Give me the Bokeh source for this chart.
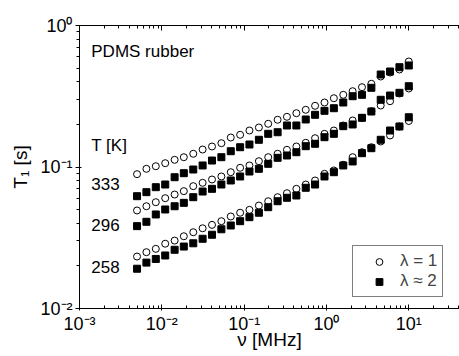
from bokeh.plotting import figure
from bokeh.models import (ColumnDataSource, LogAxis, FixedTicker, CustomJSTickFormatter,
                          Legend, LegendItem, Range1d)
from bokeh.core.properties import value
from bokeh.embed import file_html
from bokeh.resources import INLINE

# ---- data ----
freq_MHz = [0.005, 0.0065, 0.00845, 0.011, 0.0143, 0.0185, 0.0241, 0.0313, 0.0407, 0.0529,
            0.0688, 0.0894, 0.116, 0.151, 0.196, 0.255, 0.331, 0.431, 0.56, 0.727,
            0.946, 1.23, 1.6, 2.08, 2.7, 3.51, 4.56, 5.92, 7.7, 10.0]

T1_333_lam1 = [0.0890, 0.0971, 0.1013, 0.1064, 0.1124, 0.1173, 0.1240, 0.1329, 0.1396, 0.1473,
               0.1616, 0.1689, 0.1811, 0.1902, 0.2020, 0.2157, 0.2263, 0.2400, 0.2537, 0.2707,
               0.2856, 0.3063, 0.3237, 0.3433, 0.3664, 0.3873, 0.4360, 0.4653, 0.4887, 0.5567]
T1_333_lam2 = [0.0622, 0.0664, 0.0720, 0.0752, 0.0847, 0.0904, 0.0960, 0.1025, 0.1111, 0.1173,
               0.1293, 0.1380, 0.1442, 0.1557, 0.1716, 0.1761, 0.1965, 0.1965, 0.2167, 0.2338,
               0.2495, 0.2603, 0.2856, 0.3164, 0.3237, 0.3628, 0.4505, 0.4730, 0.5074, 0.5216]
T1_296_lam1 = [0.0493, 0.0528, 0.0564, 0.0602, 0.0639, 0.0675, 0.0732, 0.0773, 0.0816, 0.0857,
               0.0919, 0.0987, 0.1025, 0.1099, 0.1173, 0.1240, 0.1323, 0.1396, 0.1483, 0.1598,
               0.1716, 0.1811, 0.1965, 0.2132, 0.2226, 0.2479, 0.2720, 0.2917, 0.3307, 0.3587]
T1_296_lam2 = [0.0382, 0.0410, 0.0462, 0.0501, 0.0528, 0.0558, 0.0612, 0.0671, 0.0701, 0.0752,
               0.0803, 0.0857, 0.0929, 0.0971, 0.1053, 0.1161, 0.1206, 0.1272, 0.1403, 0.1459,
               0.1624, 0.1716, 0.1943, 0.1998, 0.2226, 0.2467, 0.2985, 0.3201, 0.3345, 0.3724]
T1_258_lam1 = [0.0233, 0.0250, 0.0264, 0.0287, 0.0302, 0.0324, 0.0346, 0.0369, 0.0390, 0.0414,
               0.0447, 0.0475, 0.0498, 0.0534, 0.0573, 0.0612, 0.0653, 0.0701, 0.0752, 0.0803,
               0.0895, 0.0945, 0.1036, 0.1173, 0.1272, 0.1380, 0.1515, 0.1670, 0.1933, 0.2114]
T1_258_lam2 = [0.0191, 0.0211, 0.0224, 0.0237, 0.0260, 0.0274, 0.0289, 0.0311, 0.0332, 0.0363,
               0.0386, 0.0414, 0.0442, 0.0475, 0.0520, 0.0573, 0.0606, 0.0629, 0.0713, 0.0752,
               0.0857, 0.0919, 0.1025, 0.1094, 0.1252, 0.1358, 0.1557, 0.1811, 0.1933, 0.2248]

x_major = [1e-3, 1e-2, 1e-1, 1e0, 1e1]
y_major = [1e-2, 1e-1, 1e0]

legend_labels = ["λ = 1", "λ ≈ 2"]
annot_text = ["PDMS rubber", "T [K]", "333", "296", "258"]
annot_x = [1.39e-3, 1.39e-3, 1.39e-3, 1.39e-3, 1.39e-3]
annot_y = [0.655, 0.1419, 0.0764, 0.0386, 0.0197]


def minors(majors, extra_decade=True):
    out = []
    decs = list(majors) + ([majors[-1] * 10] if extra_decade else [])
    for d in decs:
        for k in range(2, 10):
            out.append(d * k)
    return out


FONT = "Liberation Sans"

p = figure(width=459, height=356, x_axis_type="log", y_axis_type="log",
           x_range=Range1d(1e-3, 41.3), y_range=Range1d(1e-2, 1.0),
           output_backend="svg", toolbar_location=None,
           min_border_left=79, min_border_top=25, min_border_bottom=48, min_border_right=0)
p.outline_line_color = None
p.xgrid.visible = False
p.ygrid.visible = False
p.background_fill_color = "white"
p.border_fill_color = "white"

fmt_code = """
const sup = {"-":"\u207b","0":"\u2070","1":"\u00b9","2":"\u00b2","3":"\u00b3","4":"\u2074",
             "5":"\u2075","6":"\u2076","7":"\u2077","8":"\u2078","9":"\u2079"};
const e = Math.round(Math.log10(tick));
return "10" + String(e).split("").map(c => sup[c]).join("");
"""

xtick = FixedTicker(ticks=x_major, minor_ticks=minors(x_major))
ytick = FixedTicker(ticks=y_major, minor_ticks=minors(y_major, extra_decade=False))

for ax in (p.xaxis[0], p.yaxis[0]):
    ax.formatter = CustomJSTickFormatter(code=fmt_code)
    ax.major_label_text_font = FONT
    ax.major_label_text_font_size = "18px"
    ax.major_label_text_color = "black"
    ax.axis_label_text_font = FONT
    ax.axis_label_text_font_size = "19px"
    ax.axis_label_text_font_style = "normal"
    ax.axis_label_text_color = "black"
    ax.axis_line_color = "black"
    ax.major_tick_line_color = "black"
    ax.minor_tick_line_color = "black"

xa = p.xaxis[0]
xa.ticker = xtick
xa.axis_label = "ν [MHz]"
xa.major_tick_in = 4
xa.major_tick_out = 2
xa.minor_tick_in = 3
xa.minor_tick_out = 0
xa.major_label_standoff = 3
xa.axis_label_standoff = -8

ya = p.yaxis[0]
ya.ticker = ytick
ya.axis_label = "T₁ [s]"
ya.major_tick_in = 2
ya.major_tick_out = 4
ya.minor_tick_in = 0
ya.minor_tick_out = 3
ya.major_label_standoff = 3
ya.axis_label_standoff = 6

top = LogAxis(ticker=FixedTicker(ticks=x_major, minor_ticks=minors(x_major)),
              major_label_text_font_size="8px",
              major_label_text_color=None, major_label_standoff=0,
              major_tick_in=5, major_tick_out=0, minor_tick_in=3, minor_tick_out=0,
              axis_line_color="black", major_tick_line_color="black",
              minor_tick_line_color="black")
p.add_layout(top, "above")

series = [
    (T1_333_lam1, T1_333_lam2),
    (T1_296_lam1, T1_296_lam2),
    (T1_258_lam1, T1_258_lam2),
]

circ_renderers = []
sq_renderers = []
for lam1, lam2 in series:
    src1 = ColumnDataSource(dict(x=freq_MHz, y=lam1))
    r1 = p.scatter("x", "y", source=src1, marker="circle", size=7,
                   fill_color="white", line_color="black", line_width=1)
    circ_renderers.append(r1)
for lam1, lam2 in series:
    src2 = ColumnDataSource(dict(x=freq_MHz, y=lam2))
    r2 = p.scatter("x", "y", source=src2, marker="square", size=7,
                   fill_color="black", line_color="black", line_width=1)
    sq_renderers.append(r2)

asrc = ColumnDataSource(dict(x=annot_x, y=annot_y, t=annot_text))
p.text("x", "y", text="t", source=asrc, text_font=value(FONT), text_font_size="17px",
       text_color="black", text_baseline="middle", text_align="left")

legend = Legend(items=[LegendItem(label=legend_labels[0], renderers=[circ_renderers[0]]),
                       LegendItem(label=legend_labels[1], renderers=[sq_renderers[0]])],
                location=(273, 11), padding=5, margin=0, spacing=0,
                glyph_width=42, glyph_height=17, label_height=17, label_standoff=0,
                label_text_font=FONT, label_text_font_size="17px",
                border_line_color="black", border_line_width=1,
                background_fill_color="white", background_fill_alpha=1)
p.add_layout(legend)

open("out.html", "w").write(file_html(p, INLINE))
